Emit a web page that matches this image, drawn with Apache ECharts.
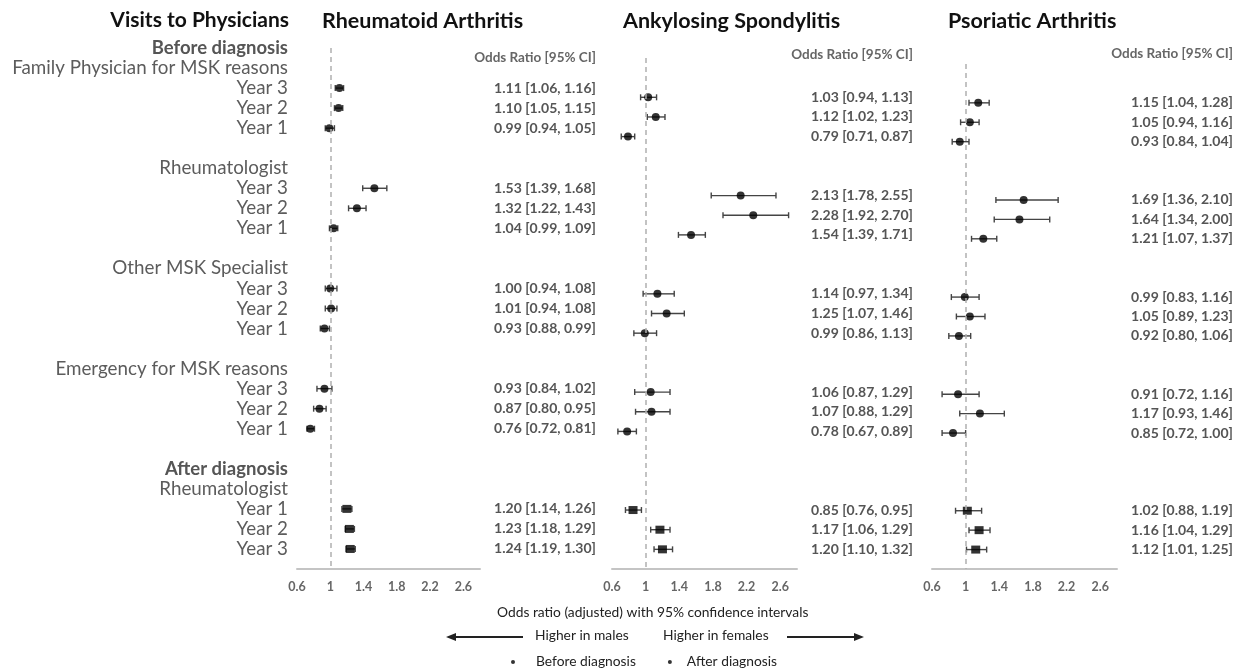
<!DOCTYPE html>
<html><head><meta charset="utf-8">
<script src="https://cdn.jsdelivr.net/npm/echarts@6/dist/echarts.min.js"></script>
<style>html,body{margin:0;padding:0;background:#fff}#c{width:1241px;height:672px}</style>
</head><body><div id="c"></div>
<script>
// ---- data ----
const rowLabels = ['Before diagnosis','Family Physician for MSK reasons','Year 3','Year 2','Year 1','',
  'Rheumatologist','Year 3','Year 2','Year 1','',
  'Other MSK Specialist','Year 3','Year 2','Year 1','',
  'Emergency for MSK reasons','Year 3','Year 2','Year 1','',
  'After diagnosis','Rheumatologist','Year 1','Year 2','Year 3',''];
const boldRows = ['Before diagnosis','After diagnosis'];
const phases = ['Before diagnosis','Before diagnosis','Before diagnosis','Before diagnosis','Before diagnosis','Before diagnosis',
  'Before diagnosis','Before diagnosis','Before diagnosis','Before diagnosis','Before diagnosis','Before diagnosis',
  'After diagnosis','After diagnosis','After diagnosis'];
const diseases = ['Rheumatoid Arthritis','Ankylosing Spondylitis','Psoriatic Arthritis'];
const raOR = [1.11,1.10,0.99,1.53,1.32,1.04,1.00,1.01,0.93,0.93,0.87,0.76,1.20,1.23,1.24];
const raLo = [1.06,1.05,0.94,1.39,1.22,0.99,0.94,0.94,0.88,0.84,0.80,0.72,1.14,1.18,1.19];
const raHi = [1.16,1.15,1.05,1.68,1.43,1.09,1.08,1.08,0.99,1.02,0.95,0.81,1.26,1.29,1.30];
const asOR = [1.03,1.12,0.79,2.13,2.28,1.54,1.14,1.25,0.99,1.06,1.07,0.78,0.85,1.17,1.20];
const asLo = [0.94,1.02,0.71,1.78,1.92,1.39,0.97,1.07,0.86,0.87,0.88,0.67,0.76,1.06,1.10];
const asHi = [1.13,1.23,0.87,2.55,2.70,1.71,1.34,1.46,1.13,1.29,1.29,0.89,0.95,1.29,1.32];
const psOR = [1.15,1.05,0.93,1.69,1.64,1.21,0.99,1.05,0.92,0.91,1.17,0.85,1.02,1.16,1.12];
const psLo = [1.04,0.94,0.84,1.36,1.34,1.07,0.83,0.89,0.80,0.72,0.93,0.72,0.88,1.04,1.01];
const psHi = [1.28,1.16,1.04,2.10,2.00,1.37,1.16,1.23,1.06,1.16,1.46,1.00,1.19,1.29,1.25];
const xTickLabels = ['0.6','1','1.4','1.8','2.2','2.6'];
const ciHeader = 'Odds Ratio [95% CI]';
const axisTitle = 'Odds ratio (adjusted) with 95% confidence intervals';
const dirLabels = ['Higher in males','Higher in females'];

// ---- build ----
const FONT = 'Lato';
const panels = [
  {name: diseases[0], or: raOR, lo: raLo, hi: raHi, left: 297, width: 183, top: 48, titleLeft: 322, headTop: 51},
  {name: diseases[1], or: asOR, lo: asLo, hi: asHi, left: 612, width: 185, top: 58, titleLeft: 623, headTop: 48},
  {name: diseases[2], or: psOR, lo: psLo, hi: psHi, left: 932, width: 185, top: 64, titleLeft: 948, headTop: 47}
];
const dataRows = [];
rowLabels.forEach((l, i) => { if (l.indexOf('Year') === 0) dataRows.push(i); });
const f2 = v => v.toFixed(2);

const grids = [], xAxes = [], yAxes = [], series = [];
const titles = [
  {text: 'Visits to Physicians', right: 1241 - 289, top: 10, padding: 0,
   textStyle: {fontFamily: FONT, fontSize: 21, fontWeight: 'bold', color: '#111'}}
];
panels.forEach((p, pi) => {
  grids.push({left: p.left, width: p.width, top: p.top, bottom: 103, containLabel: false});
  xAxes.push({type: 'value', gridIndex: pi, min: 0.6, max: 2.8, interval: 0.2,
    splitLine: {show: false}, axisTick: {show: false},
    axisLine: {show: true, lineStyle: {color: '#c4c4c4', width: 2}},
    axisLabel: {margin: 11, color: '#666', fontFamily: FONT, fontSize: 12.5, fontWeight: 'bold',
      showMaxLabel: false,
      formatter: v => { const k = Math.round((v - 0.6) / 0.2);
        if (Math.abs(v - (0.6 + 0.2 * k)) > 1e-6 || k % 2) return '';
        return xTickLabels[k / 2] || ''; }}});
  const ciLabels = rowLabels.map(() => '');
  dataRows.forEach((r, j) => { ciLabels[r] = `${f2(p.or[j])} [${f2(p.lo[j])}, ${f2(p.hi[j])}]`; });
  yAxes.push({type: 'category', gridIndex: pi, data: rowLabels, inverse: true, boundaryGap: false,
    axisLine: {show: false}, axisTick: {show: false}, splitLine: {show: false},
    axisLabel: pi === 0 ? {show: true, interval: 0, margin: 9, color: '#5c5c5c', fontFamily: FONT, fontSize: 18.8,
      formatter: v => boldRows.includes(v) ? `{b|${v}}` : v,
      rich: {b: {fontWeight: 'bold', fontFamily: FONT, fontSize: 18.5, color: '#555'}}} : {show: false}});
  yAxes.push({type: 'category', gridIndex: pi, data: ciLabels, inverse: true, boundaryGap: false, position: 'right',
    axisLine: {show: false}, axisTick: {show: false}, splitLine: {show: false},
    axisLabel: {show: true, interval: 0, align: 'right', margin: 116, color: '#555', fontFamily: FONT,
      fontSize: 14, fontWeight: 'bold'}});
  titles.push({text: p.name, left: p.titleLeft, top: 10, padding: 0,
    textStyle: {fontFamily: FONT, fontSize: 21.5, fontWeight: 'bold', color: '#111'}});
  titles.push({text: ciHeader, right: 1241 - (p.left + p.width + 116), top: p.headTop, padding: 0,
    textStyle: {fontFamily: FONT, fontSize: 13.5, fontWeight: 'bold', color: '#666'}});

  const before = [], after = [], bars = [];
  dataRows.forEach((r, j) => {
    const pt = [p.or[j], r];
    if (phases[j] === 'Before diagnosis') before.push(pt); else after.push(pt);
    bars.push([p.lo[j], p.hi[j], r]);
  });
  series.push({type: 'custom', name: 'ci' + pi, xAxisIndex: pi, yAxisIndex: pi * 2, data: bars,
    encode: {x: [0, 1], y: 2}, silent: true, z: 2,
    renderItem: (params, api) => {
      const a = api.coord([api.value(0), api.value(2)]);
      const b = api.coord([api.value(1), api.value(2)]);
      const st = {stroke: '#444', lineWidth: 1.4};
      return {type: 'group', children: [
        {type: 'line', shape: {x1: a[0], y1: a[1], x2: b[0], y2: b[1]}, style: st},
        {type: 'line', shape: {x1: a[0], y1: a[1] - 3, x2: a[0], y2: a[1] + 3}, style: st},
        {type: 'line', shape: {x1: b[0], y1: b[1] - 3, x2: b[0], y2: b[1] + 3}, style: st}
      ]};
    }});
  series.push({type: 'scatter', name: 'Before diagnosis', xAxisIndex: pi, yAxisIndex: pi * 2, data: before,
    symbol: 'circle', symbolSize: 8, itemStyle: {color: '#000'}, z: 3,
    markLine: {silent: true, symbol: 'none', label: {show: false},
      lineStyle: {color: '#b0b0b0', type: [5, 4], width: 1.5}, data: [{xAxis: 1}]}});
  series.push({type: 'scatter', name: 'After diagnosis', xAxisIndex: pi, yAxisIndex: pi * 2, data: after,
    symbol: 'rect', symbolSize: [9, 8], itemStyle: {color: '#000'}, z: 3});
});

const smallText = {fontFamily: FONT, fontSize: 13.8, fontWeight: 'normal', color: '#222'};
titles.push({text: axisTitle, left: 497, top: 606, padding: 0, textStyle: smallText});
titles.push({text: dirLabels[0], left: 535, top: 629, padding: 0, textStyle: smallText});
titles.push({text: dirLabels[1], left: 663, top: 629, padding: 0, textStyle: smallText});

const option = {
  animation: false,
  backgroundColor: '#fff',
  title: titles,
  grid: grids, xAxis: xAxes, yAxis: yAxes, series: series,
  legend: {left: 506, top: 650, orient: 'horizontal', icon: 'circle', itemWidth: 4, itemHeight: 4, itemGap: 32,
    selectedMode: false,
    textStyle: {fontFamily: FONT, fontSize: 13.8, color: '#222'},
    data: [{name: 'Before diagnosis', textStyle: {padding: [0, 0, 0, 16]}},
           {name: 'After diagnosis', textStyle: {padding: [0, 0, 0, 10]}}]},
  graphic: [
    {type: 'line', shape: {x1: 523, y1: 637, x2: 454, y2: 637}, style: {stroke: '#222', lineWidth: 2}},
    {type: 'polygon', shape: {points: [[446, 637], [456, 633], [456, 641]]}, style: {fill: '#222'}},
    {type: 'line', shape: {x1: 787, y1: 637, x2: 856, y2: 637}, style: {stroke: '#222', lineWidth: 2}},
    {type: 'polygon', shape: {points: [[864, 637], [854, 633], [854, 641]]}, style: {fill: '#222'}}
  ]
};
const chart = echarts.init(document.getElementById('c'), null, {renderer: 'canvas'});
chart.setOption(option);
</script>
</body></html>
